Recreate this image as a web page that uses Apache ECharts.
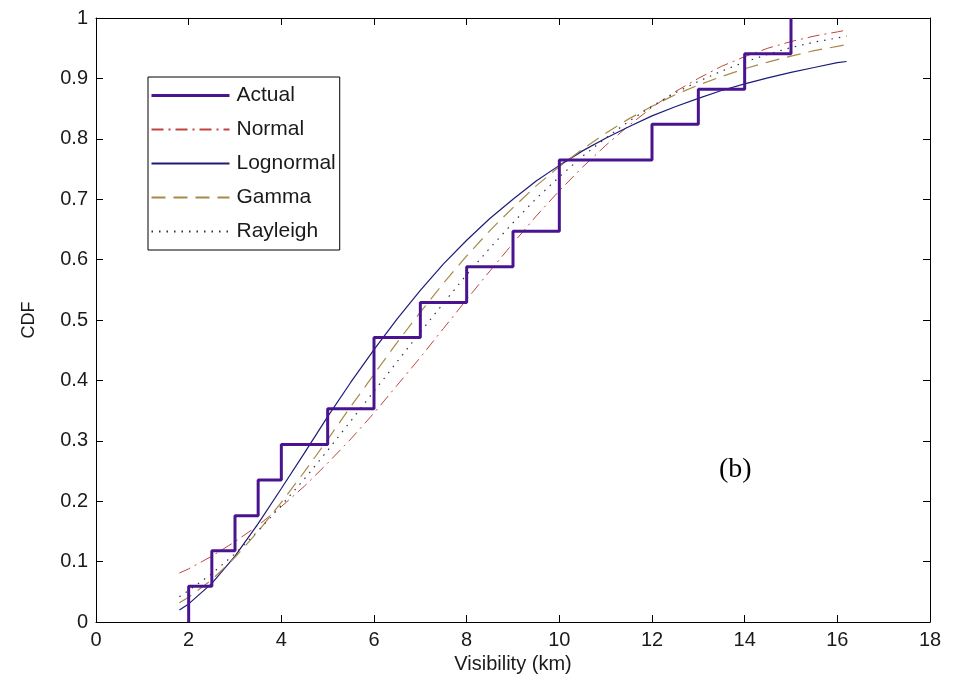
<!DOCTYPE html>
<html>
<head>
<meta charset="utf-8">
<script src="https://cdn.jsdelivr.net/npm/echarts@6/dist/echarts.min.js"></script>
<style>
html,body{margin:0;padding:0;background:#fff;}
#chart{width:955px;height:690px;}
</style>
</head>
<body>
<div id="chart"></div>
<script>
// Empirical CDF (step)
var actualX = [2, 2, 2.5, 3, 3.5, 4, 5, 6, 7, 8, 9, 10, 12, 13, 14, 15];
var actualY = [0, 0.059, 0.118, 0.176, 0.235, 0.294, 0.353, 0.471, 0.529, 0.588, 0.647, 0.765, 0.824, 0.882, 0.941, 1];

// Fitted CDF curves
var fitX = [1.8, 2, 2.5, 3, 3.5, 4, 4.5, 5, 5.5, 6, 6.5, 7, 7.5, 8, 8.5, 9, 9.5, 10, 10.5, 11, 11.5, 12, 12.5, 13, 13.5, 14, 14.5, 15, 15.5, 16, 16.2];
var normalY = [0.081, 0.088, 0.109, 0.133, 0.160, 0.191, 0.225, 0.263, 0.303, 0.346, 0.392, 0.438, 0.486, 0.534, 0.581, 0.627, 0.672, 0.714, 0.753, 0.789, 0.822, 0.852, 0.878, 0.900, 0.920, 0.936, 0.950, 0.961, 0.970, 0.977, 0.980];
var lognormalY = [0.020, 0.030, 0.064, 0.109, 0.163, 0.221, 0.280, 0.340, 0.397, 0.451, 0.502, 0.549, 0.593, 0.632, 0.668, 0.700, 0.730, 0.756, 0.780, 0.801, 0.820, 0.838, 0.853, 0.867, 0.880, 0.891, 0.901, 0.910, 0.918, 0.926, 0.928];
var gammaY = [0.032, 0.041, 0.070, 0.107, 0.150, 0.198, 0.249, 0.302, 0.357, 0.410, 0.463, 0.513, 0.561, 0.606, 0.648, 0.686, 0.722, 0.754, 0.783, 0.809, 0.833, 0.854, 0.873, 0.889, 0.903, 0.916, 0.927, 0.937, 0.946, 0.953, 0.956];
var rayleighY = [0.042, 0.052, 0.080, 0.113, 0.151, 0.193, 0.237, 0.284, 0.333, 0.382, 0.431, 0.480, 0.528, 0.575, 0.619, 0.661, 0.701, 0.737, 0.771, 0.801, 0.829, 0.854, 0.876, 0.895, 0.912, 0.927, 0.940, 0.951, 0.960, 0.967, 0.970];

var seriesNames = ['Actual', 'Normal', 'Lognormal', 'Gamma', 'Rayleigh'];
var xTitle = 'Visibility (km)';
var yTitle = 'CDF';
var panelLabel = '(b)';

function pairs(xs, ys) {
  return xs.map(function (x, i) { return [x, ys[i]]; });
}

var FONT = 'Liberation Sans, Arial, sans-serif';
var TXT = '#1a1a1a';
var COLORS = { Actual: '#4a1491', Normal: '#c0453f', Lognormal: '#1c1c7a', Gamma: '#a88a48', Rayleigh: '#333333' };
var WIDTHS = { Actual: 3, Normal: 1, Lognormal: 1.2, Gamma: 1.2, Rayleigh: 1.2 };
var DASHES = { Actual: 'solid', Normal: [12, 5, 2, 5], Lognormal: 'solid', Gamma: [14, 8], Rayleigh: [1.5, 6] };

var axisCommon = {
  axisLine: { show: true, onZero: false, lineStyle: { color: '#000', width: 1 } },
  axisTick: { show: true, inside: true, length: 7, lineStyle: { color: '#000', width: 1 } },
  splitLine: { show: false }
};

function lineSeries(name, xs, ys, z) {
  return {
    name: name, type: 'line', data: pairs(xs, ys),
    symbol: 'none', showSymbol: false, smooth: false,
    lineStyle: { color: COLORS[name], width: WIDTHS[name], type: DASHES[name] },
    itemStyle: { color: COLORS[name] }, z: z
  };
}

var chart = echarts.init(document.getElementById('chart'), null, { renderer: 'canvas' });
var stepSeries = lineSeries('Actual', actualX, actualY, 3);
stepSeries.step = 'end';

chart.setOption({
  backgroundColor: '#fff',
  animation: false,
  grid: { left: 96, right: 25, top: 18, bottom: 68, containLabel: false },
  legend: {
    data: seriesNames.map(function (n) {
      return n === 'Actual' ? { name: n, lineStyle: { width: WIDTHS[n] } } : { name: n };
    }),
    orient: 'vertical',
    left: 148,
    top: 77,
    itemWidth: 78,
    itemHeight: 14,
    itemGap: 13,
    padding: [8, 4, 8, 2],
    borderColor: '#000',
    borderWidth: 1,
    backgroundColor: '#fff',
    itemStyle: { opacity: 0 },
    textStyle: { fontFamily: FONT, fontSize: 21, lineHeight: 21, color: TXT, padding: [0, 0, 0, 2] },
    selectedMode: false
  },
  xAxis: [
    Object.assign({
      type: 'value', min: 0, max: 18, interval: 2, position: 'bottom',
      name: xTitle, nameLocation: 'middle', nameGap: 32,
      nameTextStyle: { fontFamily: FONT, fontSize: 20, color: TXT },
      axisLabel: { fontFamily: FONT, fontSize: 20, color: TXT, margin: 8 }
    }, axisCommon),
    Object.assign({
      type: 'value', min: 0, max: 18, interval: 2, position: 'top',
      axisLabel: { show: false }
    }, axisCommon)
  ],
  yAxis: [
    Object.assign({
      type: 'value', min: 0, max: 1, interval: 0.1, position: 'left',
      name: yTitle, nameLocation: 'middle', nameGap: 58,
      nameTextStyle: { fontFamily: FONT, fontSize: 18, color: TXT },
      axisLabel: { fontFamily: FONT, fontSize: 20, color: TXT, margin: 8 }
    }, axisCommon),
    Object.assign({
      type: 'value', min: 0, max: 1, interval: 0.1, position: 'right',
      axisLabel: { show: false }
    }, axisCommon)
  ],
  graphic: [{
    type: 'text', left: 719, top: 456,
    style: { text: panelLabel, font: '28px "Liberation Serif", "DejaVu Serif", serif', fill: '#000' }
  }],
  series: [
    lineSeries('Normal', fitX, normalY, 2),
    lineSeries('Lognormal', fitX, lognormalY, 2),
    lineSeries('Gamma', fitX, gammaY, 2),
    lineSeries('Rayleigh', fitX, rayleighY, 2),
    stepSeries
  ]
});
</script>
</body>
</html>
